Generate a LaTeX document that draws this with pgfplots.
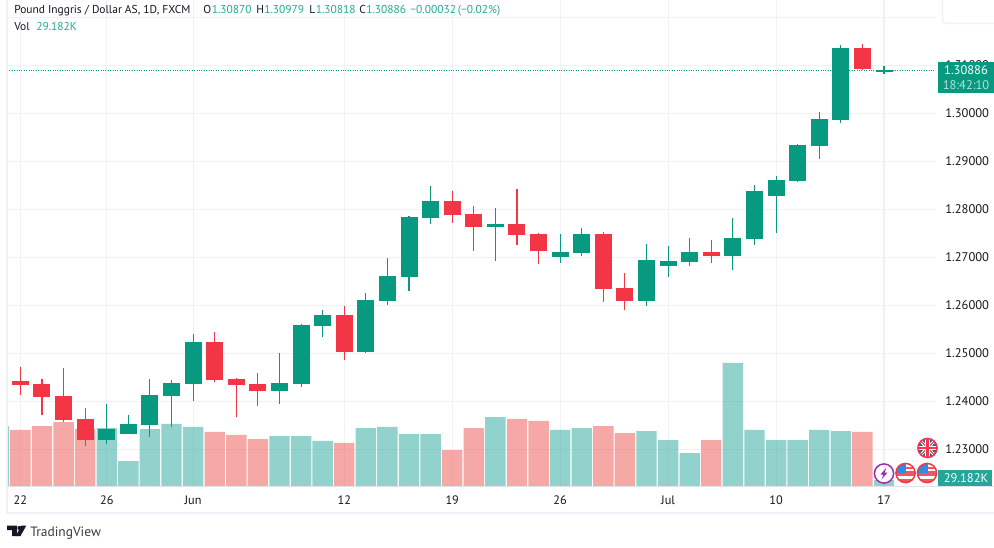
\documentclass[border=0pt]{standalone}
\usepackage{pgfplots}
\pgfplotsset{compat=1.18}
\usepackage{pgfplotstable}
\usepackage{fontspec}
\setmainfont{PT Sans}
\definecolor{cgreen}{HTML}{089981}
\definecolor{cred}{HTML}{F23645}
\definecolor{vgreen}{HTML}{26A69A}
\definecolor{vred}{HTML}{EF5350}
\definecolor{gridc}{HTML}{F0F1F4}
\definecolor{framec}{HTML}{F0F1F6}
\definecolor{axisc}{HTML}{E0E3EB}
\definecolor{txt}{HTML}{131722}
\definecolor{lab}{HTML}{22AB94}
\definecolor{ublue}{HTML}{2F5FB0}
\definecolor{fblue}{HTML}{2F8BE6}
\definecolor{purp}{HTML}{9C27B0}
% i top bottom high low
\pgfplotstableread{
i t b h l
4 1.23423 1.23194 1.23944 1.23110
5 1.23527 1.23319 1.23715 1.23319
6 1.24131 1.23506 1.24465 1.23256
7 1.24381 1.24110 1.24444 1.23465
8 1.25235 1.24360 1.25402 1.24006
12 1.24381 1.24215 1.25006 1.23944
13 1.25590 1.24360 1.25610 1.24298
14 1.25798 1.25569 1.25902 1.25340
16 1.26110 1.25027 1.26256 1.25006
17 1.26610 1.26090 1.26985 1.26006
18 1.27840 1.26590 1.27860 1.26298
19 1.28173 1.27819 1.28485 1.27694
22 1.27694 1.27631 1.28027 1.26923
25 1.27110 1.27006 1.27485 1.26881
26 1.27485 1.27090 1.27610 1.27027
29 1.26944 1.26090 1.27277 1.25985
30 1.26923 1.26819 1.27235 1.26590
31 1.27110 1.26902 1.27402 1.26819
33 1.27402 1.27027 1.27819 1.26735
34 1.28381 1.27381 1.28506 1.27256
35 1.28610 1.28277 1.28694 1.27506
36 1.29340 1.28590 1.29360 1.28569
37 1.29881 1.29319 1.30027 1.29048
38 1.31360 1.29860 1.31423 1.29798
40 1.30905 1.30855 1.30979 1.30818
}\greendata
\pgfplotstableread{
i t b h l
0 1.24423 1.24340 1.24715 1.24131
1 1.24360 1.24090 1.24465 1.23715
2 1.24110 1.23610 1.24694 1.23569
3 1.23631 1.23194 1.23860 1.23069
9 1.25235 1.24444 1.25444 1.24402
10 1.24465 1.24340 1.24485 1.23673
11 1.24360 1.24215 1.24590 1.23902
15 1.25798 1.25027 1.25985 1.24860
20 1.28173 1.27881 1.28381 1.27715
21 1.27902 1.27631 1.28069 1.27131
23 1.27694 1.27465 1.28423 1.27256
24 1.27485 1.27131 1.27506 1.26860
27 1.27485 1.26340 1.27527 1.26069
28 1.26360 1.26090 1.26673 1.25902
32 1.27110 1.27027 1.27360 1.26881
39 1.31360 1.30923 1.31444 1.30902
}\reddata
% volume, thousands
\pgfplotstableread{
i v
-1 291.8
4 282.1
5 121.6
6 277.2
7 301.6
8 287.0
12 243.2
13 243.2
14 218.9
16 282.1
17 287.0
18 252.9
19 252.9
22 335.6
25 272.4
26 282.1
29 267.5
30 223.7
31 160.5
33 598.3
34 272.4
35 223.7
36 223.7
37 272.4
38 267.5
40 29.182
}\volgreen
\pgfplotstableread{
i v
0 272.4
1 291.8
2 311.3
3 277.2
9 262.7
10 248.1
11 228.6
15 209.2
20 175.1
21 282.1
23 325.9
24 316.2
27 291.8
28 257.8
32 223.7
39 262.7
}\volred
\pgfplotsset{
  base/.style={
    scale only axis, width=696.75pt, height=364.5pt,
    at={(5.25pt,-364.5pt)}, anchor=south west,
    xmin=-0.6207, xmax=42.408,
  },
  price/.style={base, ymin=1.222354, ymax=1.323604},
  wick/.style={draw=none, mark=none, forget plot,
    error bars/.cd, y dir=minus, y explicit, error mark=none,
    error bar style={line width=0.8pt, #1}},
  body/.style={draw=none, mark=none, forget plot,
    error bars/.cd, y dir=minus, y explicit, error mark=none,
    error bar style={line width=12.75pt, #1}},
}
\newcommand{\usflag}[2]{%
  \begin{scope}[shift={(#1,#2)}]
    \begin{scope}
      \clip (0,0) circle (9.6);
      \fill[white] (-10,-10) rectangle (10,10);
      \fill[fblue] (-10,-10) rectangle (0.5,0);
      \fill[cred!85] (-10,0.4) rectangle (10,3.4);
      \fill[cred!85] (0.5,-6) rectangle (10,-4);
      \fill[cred!85] (0.5,-2.2) rectangle (10,-0.4);
      \fill[cred!85] (-10,6) rectangle (10,10);
    \end{scope}
    \draw[cred, line width=1.1pt] (0,0) circle (9.6);
  \end{scope}}
\newcommand{\ukflag}[2]{%
  \begin{scope}[shift={(#1,#2)}]
    \begin{scope}
      \clip (0,0) circle (9.6);
      \fill[ublue] (-10,-10) rectangle (10,10);
      \draw[white, line width=2.2pt] (-10,-10) -- (10,10) (-10,10) -- (10,-10);
      \draw[cred, line width=0.8pt] (-10,-10) -- (10,10) (-10,10) -- (10,-10);
      \draw[white, line width=3.2pt] (-10,0) -- (10,0) (0,-10) -- (0,10);
      \draw[cred, line width=1.7pt] (-10,0) -- (10,0) (0,-10) -- (0,10);
    \end{scope}
    \draw[cred, line width=1.1pt] (0,0) circle (9.6);
  \end{scope}}
\begin{document}
\begin{tikzpicture}[x=0.75pt,y=-0.75pt]
\path[use as bounding box, fill=white] (0,0) rectangle (994,548);
% grid and tick labels
\begin{axis}[price,
  axis line style={draw=none}, tick style={draw=none},
  xtick={0,4,8,15,20,25,30,35,40},
  xticklabels={22,26,Jun,12,19,26,Jul,10,17},
  ytick={1.23,1.24,1.25,1.26,1.27,1.28,1.29,1.30,1.31,1.32},
  yticklabels={1.23000,1.24000,1.25000,1.26000,1.27000,1.28000,1.29000,1.30000,1.31000,},
  yticklabel pos=right,
  grid=major, grid style={gridc, line width=0.8pt},
  x tick label style={font=\fontsize{9.2pt}{11pt}\selectfont, text=txt, anchor=base, yshift=-14pt},
  y tick label style={font=\fontsize{9.4pt}{11pt}\selectfont, text=txt, xshift=3.5pt},
  /pgf/number format/assume math mode=true,
]
\addplot[draw=none, forget plot] coordinates {(0,1.25)};
\end{axis}
% volume
\begin{axis}[base, ymin=0, ymax=2363.9, hide axis]
\addplot[ybar, bar width=15.3pt, bar shift=0pt, draw=none, fill=vgreen, fill opacity=0.5, forget plot] table[x=i,y=v] {\volgreen};
\addplot[ybar, bar width=15.3pt, bar shift=0pt, draw=none, fill=vred, fill opacity=0.5, forget plot] table[x=i,y=v] {\volred};
\end{axis}
% candles
\begin{axis}[price, hide axis]
\addplot[cgreen, line width=0.8pt, densely dotted, forget plot] coordinates {(-0.6207,1.30886) (42.408,1.30886)};
\addplot[wick=cgreen] table[x=i,y=h,y error minus expr=\thisrow{h}-\thisrow{l}] {\greendata};
\addplot[wick=cred] table[x=i,y=h,y error minus expr=\thisrow{h}-\thisrow{l}] {\reddata};
\addplot[body=cgreen] table[x=i,y=t,y error minus expr=\thisrow{t}-\thisrow{b}] {\greendata};
\addplot[body=cred] table[x=i,y=t,y error minus expr=\thisrow{t}-\thisrow{b}] {\reddata};
\end{axis}
% frame
\draw[framec, line width=1.5pt] (7,0) -- (7,513) -- (994,513);
\draw[axisc, line width=0.9pt] (7,486.5) -- (994,486.5);
% top right box
\draw[framec, line width=1.1pt, fill=white, rounded corners=3pt] (942.5,-5) rectangle (1000,23.5);
% last price labels
\fill[cgreen] (938,61.7) rectangle (994,92.7);
\node[anchor=center, text=white, font=\fontsize{9.4pt}{11pt}\selectfont] at (966,70) {1.30886};
\node[anchor=center, text=white!70!cgreen, font=\fontsize{9.4pt}{11pt}\selectfont] at (966,85) {18:42:10};
\fill[vgreen] (938,470) rectangle (992,486);
\node[anchor=center, text=white, font=\fontsize{9.4pt}{11pt}\selectfont] at (966,478.5) {29.182K};
% event icons
\ukflag{927.5}{448}
\usflag{905.5}{473}
\usflag{927}{473}
\begin{scope}[shift={(884,473.5)}]
  \fill[white] (0,0) circle (9.6);
  \draw[purp, line width=1.1pt] (0,0) circle (9.6);
  \fill[purp] (2.5,-6) -- (-3.5,1) -- (-0.5,1) -- (-2.5,6) -- (3.5,-1) -- (0.5,-1) -- cycle;
\end{scope}
% header
\begin{scope}[every node/.style={anchor=base west, inner sep=0pt, font=\fontsize{8.6pt}{10pt}\selectfont}]
\node[text=txt] at (14,14) {Pound Inggris / Dollar AS, 1D, FXCM};
\node[text=txt] at (203,14) {O};
\node[text=lab] at (211.5,14) {1.30870};
\node[text=txt] at (256,14) {H};
\node[text=lab] at (264,14) {1.30979};
\node[text=txt] at (309,14) {L};
\node[text=lab] at (315.5,14) {1.30818};
\node[text=txt] at (359,14) {C};
\node[text=lab] at (366,14) {1.30886};
\node[text=lab] at (410,14) {−0.00032};
\node[text=lab] at (457.7,14) {(−0.02\%)};
\node[text=txt] at (14,31) {Vol};
\node[text=lab] at (36,31) {29.182K};
\end{scope}
% logo
\fill[txt] (7,525.7) -- (17,525.7) -- (17,536) -- (12,536) -- (12,530) -- (7,530) -- cycle;
\fill[txt] (19.5,528) circle (2.1);
\fill[txt] (26.2,525.7) -- (20.5,536) -- (15.8,536) -- (21.3,525.7) -- cycle;
\node[anchor=base west, inner sep=0pt, text=txt!85, font=\fontsize{10.1pt}{12pt}\selectfont] at (30,536) {TradingView};
\end{tikzpicture}
\end{document}
